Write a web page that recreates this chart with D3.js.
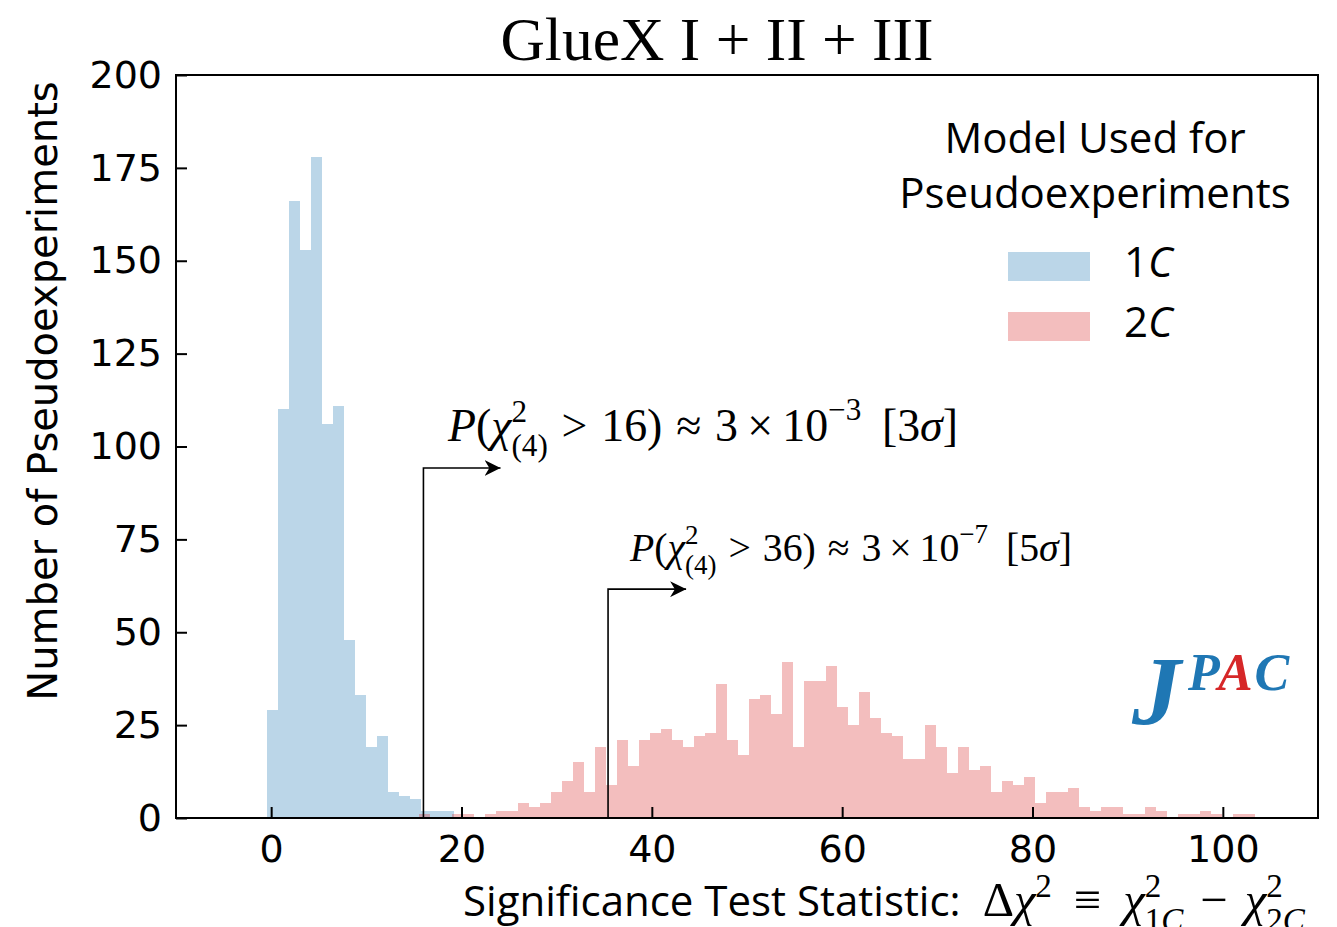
<!DOCTYPE html>
<html><head><meta charset="utf-8">
<script src="https://cdn.jsdelivr.net/npm/d3@7"></script>
<style>body{margin:0;background:#fff} text{white-space:pre}</style>
</head><body>
<svg id="chart" width="1337" height="927"></svg>
<script>
// ---------- data ----------
const binWidth = 1.155;
const blueStart = -0.39;
const blueCounts = [29,110,166,153,178,106,111,48,33,19,22,7,6,5,2,2,2];
const pinkStart = 15.58;
const pinkCounts = [1,0,0,1,1,0,1,2,2,4, 3,4,7,10,15,7,19,9,21,14, 21,23,24,21,19,22,23,36,21,17,
  32,33,28,42,19,37,37,41,30,25, 34,27,23,22,16,16,25,19,12,19, 13,14,7,10,9,11,4,7,7,8,
  3,2,3,3,1,1,3,2,0,1, 1,2,1,0,1,1];
const xTicks = [0,20,40,60,80,100];
const yTicks = [0,25,50,75,100,125,150,175,200];
const seriesNames = ["1C","2C"];
const seriesColors = ["#1f77b4","#d62728"];
const arrowX = [16, 35.4];       // vertical line positions (Δχ²)
const arrowY = [94.2, 61.6];     // elbow height (counts)
const arrowTip = [24.1, 43.6];   // arrow tip x

// ---------- layout ----------
const M = {left:176, right:1318, top:75, bottom:818};
const x = d3.scaleLinear().domain([-10,110]).range([M.left, M.right]);
const y = d3.scaleLinear().domain([0,200]).range([M.bottom, M.top]);
const svg = d3.select('#chart');
const SANS = "'Open Sans', 'Noto Sans', sans-serif";
const DV = "'DejaVu Sans', sans-serif";
const SERIF = "'Liberation Serif', 'DejaVu Serif', serif";

function drawHist(start, counts, color){
  const bins = counts.map((c,i)=>({x0:start+i*binWidth, x1:start+(i+1)*binWidth, c}));
  svg.append('g').selectAll('rect').data(bins).join('rect')
    .attr('x', d=>Math.round(x(d.x0)))
    .attr('width', d=>Math.round(x(d.x1))-Math.round(x(d.x0)))
    .attr('y', d=>y(d.c))
    .attr('height', d=>y(0)-y(d.c))
    .attr('fill', color).attr('fill-opacity', 0.3)
    .attr('shape-rendering','crispEdges');
}
drawHist(blueStart, blueCounts, seriesColors[0]);
drawHist(pinkStart, pinkCounts, seriesColors[1]);

// axes
const xAxis = svg.append('g').attr('transform',`translate(0,${M.bottom})`)
  .call(d3.axisBottom(x).tickValues(xTicks).tickSizeInner(-11).tickSizeOuter(0).tickPadding(17));
const yAxis = svg.append('g').attr('transform',`translate(${M.left},0)`)
  .call(d3.axisLeft(y).tickValues(yTicks).tickSizeInner(-11).tickSizeOuter(0).tickPadding(14));
[xAxis,yAxis].forEach(a=>{
  a.select('.domain').remove();
  a.selectAll('.tick line').attr('stroke','#000').attr('stroke-width',2);
  a.selectAll('.tick text').attr('font-family',DV).attr('font-size',38).attr('fill','#000');
});
svg.append('rect').attr('x',M.left).attr('y',M.top).attr('width',M.right-M.left).attr('height',M.bottom-M.top)
  .attr('fill','none').attr('stroke','#000').attr('stroke-width',2);

// ---------- math text helper ----------
function renderMath(parent, x0, yBase, size, segs, family){
  const g = parent.append('g');
  let cx = x0, lastStart = x0;
  segs.forEach(s=>{
    if (s.gap !== undefined){ cx += s.gap*size; return; }
    const fs = size*(s.s||1);
    const px = s.stack ? lastStart : cx;
    const t = g.append('text').attr('x',px).attr('y',yBase+(s.dy||0)*size)
      .attr('font-family', s.f||family).attr('font-size',fs).attr('fill','#000');
    const parts = Array.isArray(s.t) ? s.t : [[s.t, !!s.i]];
    parts.forEach(p=>t.append('tspan').attr('font-style',p[1]?'italic':'normal').text(p[0]));
    const w = t.node().getComputedTextLength();
    if (s.stack){ cx = Math.max(cx, px+w); } else { lastStart = px; cx = px+w; }
  });
  return {g, width: cx-x0};
}
function fitMath(parent, x0, yBase, size, segs, target, family){
  const r = renderMath(parent, x0, yBase, size, segs, family);
  const ns = size*target/r.width; r.g.remove();
  return renderMath(parent, x0, yBase, ns, segs, family);
}
function probSegs(k, e, s){
  return [{t:'P',i:1},{t:'('},{t:'χ',i:1},{t:'2',s:0.68,dy:-0.42},{t:'(4)',s:0.68,dy:0.33,stack:1},
    {gap:0.3},{t:'>'},{gap:0.3},{t:`${k})`},{gap:0.3},{t:'≈'},{gap:0.3},{t:'3'},{gap:0.2},{t:'×'},{gap:0.2},
    {t:'10'},{t:`−${e}`,s:0.68,dy:-0.45},{gap:0.45},{t:`[${s}`},{t:'σ',i:1},{t:']'}];
}
fitMath(svg, 448, 441, 40, probSegs(16,3,3), 510, SERIF);
fitMath(svg, 630, 561, 35, probSegs(36,7,5), 442, SERIF);

// arrows
svg.append('defs').append('marker').attr('id','ah').attr('viewBox','0 0 10 10').attr('refX',10).attr('refY',5)
  .attr('markerWidth',16).attr('markerHeight',16).attr('markerUnits','userSpaceOnUse').attr('orient','auto')
  .append('path').attr('d','M0,0 L10,5 L0,10 L3,5 Z').attr('fill','#000');
arrowX.forEach((ax,i)=>{
  svg.append('path').attr('d',`M${x(ax)},${y(0)} V${y(arrowY[i])} H${x(arrowTip[i])}`)
    .attr('fill','none').attr('stroke','#000').attr('stroke-width',1.6).attr('marker-end','url(#ah)');
});

// title
svg.append('text').attr('x',717).attr('y',60).attr('text-anchor','middle')
  .attr('font-family',SERIF).attr('font-size',61.5).text('GlueX I + II + III');

// y label
svg.append('text').attr('transform','translate(57,391) rotate(-90)').attr('text-anchor','middle')
  .attr('font-family',DV).attr('font-size',40).text('Number of Pseudoexperiments');

// x label
const xl = svg.append('text').attr('x',463).attr('y',916).attr('font-family',SANS).attr('font-size',42)
  .text('Significance Test Statistic:');
const xlEnd = 463 + xl.node().getComputedTextLength() + 22;
fitMath(svg, xlEnd, 916, 38, [
  {t:'Δ'},{t:'χ',i:1},{t:'2',s:0.68,dy:-0.38},{gap:0.45},{t:'≡'},{gap:0.45},
  {t:'χ',i:1},{t:'2',s:0.68,dy:-0.38},{t:[['1',0],['C',1]],s:0.68,dy:0.3,stack:1},{gap:0.35},{t:'−'},{gap:0.35},
  {t:'χ',i:1},{t:'2',s:0.68,dy:-0.38},{t:[['2',0],['C',1]],s:0.68,dy:0.3,stack:1}
], 1305-xlEnd, SERIF);

// legend
const lg = svg.append('g');
lg.append('text').attr('x',1095).attr('y',153).attr('text-anchor','middle').attr('font-family',SANS).attr('font-size',42).text('Model Used for');
lg.append('text').attr('x',1095).attr('y',208).attr('text-anchor','middle').attr('font-family',SANS).attr('font-size',42).text('Pseudoexperiments');
seriesNames.forEach((n,i)=>{
  const yy = 252 + i*60;
  lg.append('rect').attr('x',1008).attr('y',yy).attr('width',82).attr('height',29)
    .attr('fill',seriesColors[i]).attr('fill-opacity',0.3);
  const t = lg.append('text').attr('x',1124).attr('y',yy+25).attr('font-family',SANS).attr('font-size',42);
  t.append('tspan').text(n[0]);
  t.append('tspan').attr('font-style','italic').text(n.slice(1));
});

// JPAC logo
const logo = svg.append('g').attr('font-family',SERIF).attr('font-weight','bold').attr('font-style','italic');
logo.append('text').attr('x',1132).attr('y',724).attr('font-size',98).attr('fill','#1f77b4').text('J');
const pac = logo.append('text').attr('x',1188).attr('y',690).attr('font-size',52).attr('letter-spacing',2);
[['P','#1f77b4'],['A','#d62728'],['C','#1f77b4']].forEach(p=>pac.append('tspan').attr('fill',p[1]).text(p[0]));
</script>
</body></html>
